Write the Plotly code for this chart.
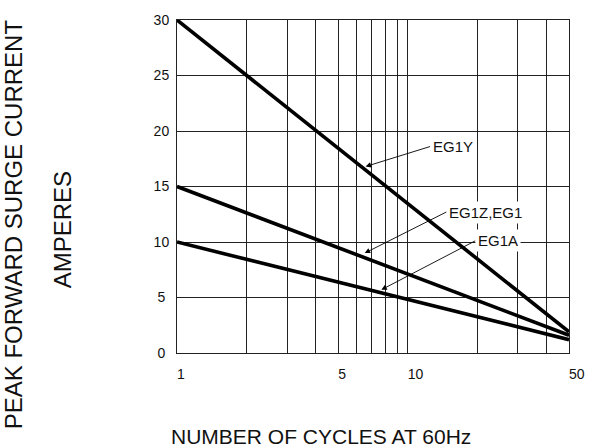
import plotly.graph_objects as go
import math

# ---- data ----
cycles = [1, 50]
eg1y = [30, 1.9]
eg1z = [15, 1.6]
eg1a = [10, 1.2]

x_grid_vals = [1, 2, 3, 4, 5, 6, 7, 8, 9, 10, 20, 30, 40, 50]
x_label_vals = [1, 5, 10, 50]
y_tick_vals = [0, 5, 10, 15, 20, 25, 30]

FONT = "Liberation Sans, Arial, sans-serif"
NBSP = "\u00a0"

fig = go.Figure()
for ys in (eg1y, eg1z, eg1a):
    fig.add_trace(go.Scatter(x=cycles, y=ys, mode="lines",
                             line=dict(color="black", width=3.6),
                             showlegend=False, hoverinfo="skip"))

# labels sit to the right of their grid line: pad on the left by the label's width
x_ticktext = [(NBSP * (2 * len(str(v))) + str(v)) if v in x_label_vals else ""
              for v in x_grid_vals]
y_ticktext = [str(v) if v >= 10 else str(v) + NBSP for v in y_tick_vals]

fig.update_xaxes(type="log", range=[0, math.log10(50)],
                 tickvals=x_grid_vals, ticktext=x_ticktext,
                 showgrid=True, gridcolor="#222222", gridwidth=1,
                 zeroline=False, showline=True, linecolor="#222222", linewidth=1,
                 mirror=True, ticks="", ticklabelstandoff=8,
                 tickfont=dict(family=FONT, size=14, color="#111111"))
fig.update_yaxes(range=[0, 30], tickvals=y_tick_vals, ticktext=y_ticktext,
                 showgrid=True, gridcolor="#222222", gridwidth=1,
                 zeroline=False, showline=True, linecolor="#222222", linewidth=1,
                 mirror=True, ticks="", ticklabelstandoff=4,
                 tickfont=dict(family=FONT, size=14, color="#111111"))

def ann(text, head, tail):
    fig.add_annotation(x=math.log10(head[0]), y=head[1], xref="x", yref="y",
                       ax=math.log10(tail[0]), ay=tail[1], axref="x", ayref="y",
                       text=text, showarrow=True, arrowhead=2, arrowsize=1.2,
                       arrowwidth=0.9, arrowcolor="black",
                       xanchor="left", yanchor="middle",
                       bgcolor="white", borderpad=2,
                       font=dict(family=FONT, size=15, color="#111111"))

ann("EG1Y", (6.57, 16.8), (12.5, 18.6))
ann("EG1Z,EG1", (6.51, 9.0), (14.7, 12.7))
ann("EG1A", (7.69, 5.7), (19.6, 10.1))

# axis titles
fig.add_annotation(text="PEAK FORWARD SURGE CURRENT", xref="paper", yref="paper",
                   x=-0.418, y=0.387, textangle=-90, showarrow=False,
                   xanchor="center", yanchor="middle",
                   font=dict(family=FONT, size=24, color="#111111"))
fig.add_annotation(text="AMPERES", xref="paper", yref="paper",
                   x=-0.293, y=0.369, textangle=-90, showarrow=False,
                   xanchor="center", yanchor="middle",
                   font=dict(family=FONT, size=24, color="#111111"))
fig.add_annotation(text="NUMBER OF CYCLES AT 60Hz", xref="paper", yref="paper",
                   x=0.368, y=-0.252, showarrow=False,
                   xanchor="center", yanchor="middle",
                   font=dict(family=FONT, size=21, color="#111111"))

fig.update_layout(width=597, height=448,
                  margin=dict(l=177, r=21, t=20, b=95),
                  paper_bgcolor="white", plot_bgcolor="white")

fig.write_html("out.html", config={"displayModeBar": False},
               post_script="document.body.style.margin='0px';")
